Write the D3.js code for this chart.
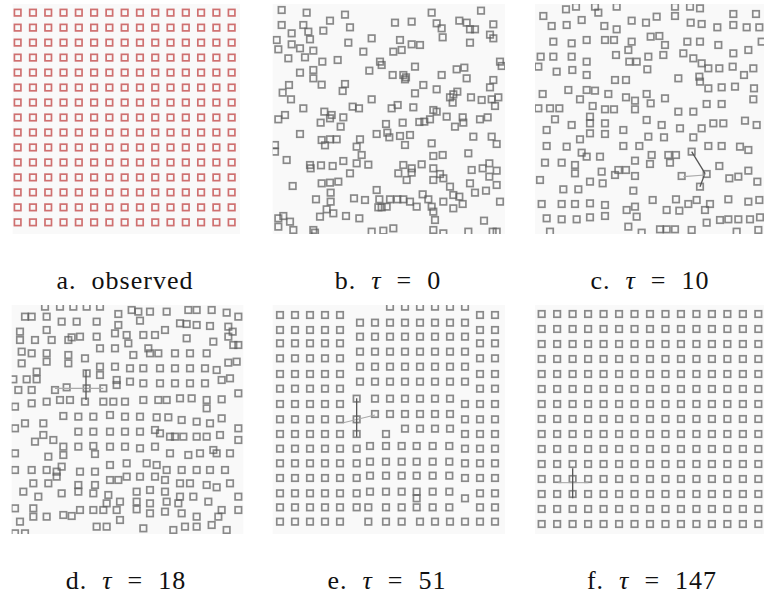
<!DOCTYPE html>
<html>
<head>
<meta charset="utf-8">
<script src="https://cdn.jsdelivr.net/npm/d3@7"></script>
<style>
  body { margin: 0; background: #fff; }
  svg { display: block; }
  .lbl { font-family: "Liberation Serif", "DejaVu Serif", serif; font-size: 26px; letter-spacing: 1px; fill: #111; }
</style>
</head>
<body>
<div id="chart"></div>
<script>
// lattice rows / columns of the observed and final layouts
const gridIdx = [0, 1, 2, 3, 4, 5, 6, 7, 8, 9, 10, 11, 12, 13, 14];

const panelNames = ["a.", "b.", "c.", "d.", "e.", "f."];
const tauValues = [null, 0, 10, 18, 51, 147];

// square centres (tile units, 0..750 across a 250px tile)
const ptsB = [
  [65,30],[140,38],[255,44],[515,38],[663,32],
  [210,62],[65,75],[130,75],[405,68],[455,65],[530,70],[598,62],[620,68],[700,73],
  [95,100],[145,95],[190,92],[270,82],[545,85],[630,88],[645,88],[690,104],
  [50,120],[95,133],[150,118],[265,128],[335,115],[420,120],[455,133],[480,135],[548,112],[630,128],[700,115],
  [55,148],[120,145],[160,152],[310,155],[400,155],[425,150],
  [85,175],[135,172],[187,185],[233,180],[720,185],
  [360,185],[365,195],[328,212],[398,225],[430,225],[438,232],[465,200],[545,225],[590,208],[613,203],[725,198],
  [120,218],[160,210],[160,235],[185,254],[255,252],[248,273],[87,255],[68,278],[93,298],[435,238],[620,235],[700,240],[690,262],
  [465,280],[490,255],[530,268],[580,283],[592,275],[570,292],[633,292],[665,300],[695,298],[715,292],[705,318],
  [130,325],[278,320],[297,325],[335,298],[395,325],[413,315],[460,322],[520,330],[530,335],[578,308],[193,335],[215,345],
  [55,358],[75,345],[182,368],[210,355],[242,380],[250,352],[378,372],[428,368],[478,366],[493,365],[510,358],[560,350],[585,380],[608,352],[610,368],[660,358],[683,352],
  [120,402],[350,402],[382,398],[388,412],[420,408],[450,405],[185,420],[210,418],[230,418],[300,418],[640,410],[695,410],[710,432],
  [45,435],[45,455],[195,436],[290,440],[435,435],[515,430],
  [80,480],[305,465],[520,468],[548,465],[625,460],
  [150,495],[152,505],[183,496],[218,498],[250,483],[290,490],[325,494],[270,520],[430,495],[455,505],[485,493],[455,518],[440,540],[520,505],[540,522],[635,510],[668,505],[688,490],[710,512],
  [98,558],[185,550],[210,548],[235,545],[520,540],[550,535],[570,560],[630,550],[688,530],[710,555],[415,520],
  [168,598],[212,578],[212,605],[282,595],[315,600],[350,570],[358,598],[390,598],[412,598],[430,598],[450,605],[488,583],[505,598],[515,620],[550,605],[580,585],[598,590],[608,612],[645,578],[720,605],[678,572],
  [200,628],[180,650],[220,640],[258,648],[298,655],[355,622],[365,622],[380,620],[470,620],[520,635],[580,625],[525,660],[672,662],
  [55,655],[70,648],[55,680],[90,665],[100,690],[160,690],[165,698],[335,695],[370,692],[400,685],[520,690],[550,700],[625,695],[698,695],[710,695]
];

const ptsC = [
  [138,28],[168,20],[225,20],[235,38],[290,20],[465,20],[510,20],[540,25],[640,42],[708,42],[70,48],
  [95,78],[140,75],[185,60],[253,78],[290,88],[335,62],[378,68],[410,50],[465,48],[512,68],[545,72],[592,82],[640,75],[680,82],[718,82],
  [100,125],[155,130],[200,120],[255,120],[282,120],[335,125],[392,110],[418,108],[435,135],[502,125],[540,125],[595,135],[725,125],
  [325,150],[288,165],[328,185],[350,185],[385,170],[430,165],[490,160],[520,175],[545,190],[565,205],[598,205],[640,160],[685,150],[62,170],[100,170],[155,170],[200,185],
  [55,200],[110,215],[157,210],[200,225],[382,208],[475,235],[538,230],[638,200],[672,225],[700,205],[285,240],[318,240],
  [540,245],[565,265],[605,262],[645,260],[702,265],[68,282],[145,270],[180,298],[200,270],[225,272],[265,282],[318,292],[345,302],[380,282],[392,310],[435,295],[560,312],[605,312],[700,298],
  [55,325],[90,325],[118,325],[218,318],[255,328],[282,328],[345,328],[475,335],[520,335],[105,358],[155,375],[210,350],[210,370],[255,370],[310,390],[380,360],[425,375],[480,385],[545,385],[580,370],[610,370],[675,362],[710,375],
  [80,390],[180,418],[210,400],[255,402],[385,410],[432,412],[520,412],[565,438],[605,438],[660,440],[685,450],[80,438],[140,440],[185,458],[310,438],[358,438],[395,465],[445,465],[468,465],[515,455],
  [75,488],[125,488],[165,495],[200,470],[240,470],[345,482],[390,492],[450,488],[598,498],[165,520],[245,515],[295,510],[285,525],[318,510],[345,528],[485,528],[560,522],[628,535],[655,530],[685,512],[712,545],[60,540],[210,545],[248,550],[540,560],
  [130,568],[175,568],[340,572],[398,600],[468,598],[505,612],[530,600],[570,612],[625,598],[685,605],[718,600],[65,612],[125,612],[165,612],[210,610],[255,615],[320,630],[345,620],[440,630],[478,632],[555,630],
  [80,655],[125,658],[170,658],[210,652],[255,648],[350,650],[325,680],[365,698],[420,688],[440,688],[465,688],[515,690],[600,660],[625,658],[655,658],[690,658],[720,652],[560,668],[90,695],[650,695],[715,690]
];

const ptsD = [
  [135,20],[180,20],[220,20],[260,20],[300,20],[395,30],[415,35],[450,35],[500,35],[565,30],[590,30],[635,30],[680,38],[715,50],[75,50],[95,50],[140,50],[355,42],[420,62],
  [185,65],[230,65],[290,65],[140,90],[355,75],[540,70],[560,72],[590,75],[630,78],[685,80],[698,95],[495,90],[60,95],[60,120],[105,120],[155,120],[205,120],[215,112],[240,110],[290,110],[345,100],[380,105],[385,130],[430,105],[465,105],[560,115],[640,125],[685,110],[700,135],[715,135],
  [65,155],[95,160],[140,160],[205,165],[255,175],[300,145],[345,145],[400,165],[445,145],[450,160],[475,160],[525,160],[570,160],[620,160],[685,188],[710,185],[65,190],[140,185],[205,190],[300,200],[345,200],[390,205],[430,205],[480,205],[525,205],[570,205],[615,205],[650,210],
  [110,215],[260,220],[300,225],[40,238],[80,238],[110,238],[350,240],[350,255],[390,245],[430,250],[480,250],[525,250],[570,250],[615,250],[665,240],[690,235],[55,270],[95,270],[165,270],[200,262],[260,265],[310,265],
  [715,280],[45,320],[95,310],[140,305],[180,300],[210,300],[255,305],[310,305],[340,305],[375,305],[430,300],[475,300],[500,300],[540,295],[575,295],[620,300],[665,298],[620,325],
  [190,348],[235,350],[280,350],[330,345],[375,350],[420,350],[470,352],[505,352],[545,360],[590,365],[630,370],[665,355],[45,385],[75,370],[130,370],[105,425],[130,405],[160,420],[235,395],[280,395],[330,395],[375,395],[420,395],[465,390],[480,400],[510,410],[525,410],[550,410],[590,410],[620,410],[660,405],[715,385],
  [190,440],[235,440],[280,438],[330,440],[375,440],[420,445],[465,440],[45,460],[145,470],[190,465],[285,462],[510,460],[565,465],[600,460],[640,450],[650,460],[690,460],[715,420],
  [45,510],[95,510],[140,510],[170,515],[185,500],[240,515],[285,515],[330,495],[380,490],[440,490],[470,495],[500,510],[545,510],[590,510],[630,510],[675,510],[170,530],[330,540],[355,540],[380,530],[420,530],[465,530],[495,540],[540,550],[570,550],[620,555],[650,562],[690,550],
  [100,550],[145,550],[70,575],[115,590],[185,580],[235,555],[235,575],[285,555],[280,580],[325,585],[410,575],[450,570],[495,575],[540,590],[580,590],[625,605],[715,590],[320,610],[360,605],[410,605],[450,610],[500,605],[535,610],
  [45,625],[100,625],[100,650],[140,650],[190,645],[215,648],[240,630],[280,630],[310,630],[350,630],[410,628],[450,640],[495,635],[545,640],[590,650],[665,630],[715,630],[60,665],[290,680],[320,680],[360,660],[430,685],[520,690],[555,680],[590,680],[635,675],[680,690],[655,650],[45,700],[75,700]
];

// panel e: squares listed row by row (row centre, then column centres)
const rowsE = [
  [20, [390,435,480,525,570,615]],
  [45, [60,105,150,195,240,660,705]],
  [68, [300,345,390,435,480,525,570,615]],
  [90, [60,105,150,195,240,660,705]],
  [110, [300,345,390,435,480,525,570,615]],
  [130, [60,105,150,195,240,660,705]],
  [155, [300,345,390,435,480,525,570,615]],
  [175, [60,105,150,195,240,660,705]],
  [200, [300,345,390,435,480,525,570,615]],
  [222, [60,105,150,195,240,660,705]],
  [245, [300,345,390,435,480,525,570,615]],
  [266, [60,105,150,195,240,660,705]],
  [296, [290,345,390,435,480,525,570]],
  [312, [60,105,150,195,240,615,660,705]],
  [342, [345,390,435,480,525,570]],
  [358, [60,105,150,195,240,290,615,660,705]],
  [386, [435,480,525,570]],
  [402, [60,105,150,195,240,290,378,615,660,705]],
  [438, [330,378,425,470,518,568]],
  [446, [60,105,150,195,240,290,615,660,705]],
  [485, [330,378,425,470,518,568]],
  [490, [60,105,150,195,240,290,615,660,705]],
  [527, [330,378,425,470,518,568]],
  [534, [60,105,150,195,240,290,615,660,705]],
  [575, [330,378,425,470,518,568]],
  [580, [60,105,150,195,240,290,660,705]],
  [595, [470,615]],
  [622, [60,105,150,195,240,290,325,378,425,470,518,568,660,705]],
  [665, [60,105,150,195,240,325,378,425,480,525,570,615,660,705]]
];
const ptsE = rowsE.flatMap(([y, xs]) => xs.map(x => [x, y]));

// highlighted moves drawn as thin links [x1, y1, x2, y2, dark?]
const linksC = [[515,455,555,520,1],[555,520,540,560,1],[490,530,555,525,0]];
const linksD = [[165,265,310,265,0],[258,210,258,300,1]];
const linksE = [[250,368,345,345,0],[290,295,290,410,1]];
const linksF = [[115,548,205,548,0],[158,505,158,595,1]];

const W = 764, H = 597;
const svg = d3.select("#chart").append("svg").attr("width", W).attr("height", H);

const defs = svg.append("defs");
defs.append("filter").attr("id", "soft")
  .append("feGaussianBlur").attr("stdDeviation", 0.35);

// tile units -> pixels
const t = d3.scaleLinear().domain([0, 750]).range([0, 250]);
const SQ = 6.5;

const gridA = gridIdx.flatMap(r => gridIdx.map(c => [c, r]));
const ax = d3.scalePoint().domain(gridIdx).range([53, 695]);
const ay = d3.scalePoint().domain(gridIdx).range([38, 667]);
const fx = d3.scalePoint().domain(gridIdx).range([65, 715]);
const fy = d3.scalePoint().domain(gridIdx).range([42, 672]);

const panels = [
  {tx: 0,   ty: 0,   lx: 125, clip: [38, 12, 720, 702], pts: gridA.map(([c, r]) => [ax(c), ay(r)]), red: true, links: []},
  {tx: 260, ty: 0,   lx: 128, clip: [38, 12, 735, 702], pts: ptsB, links: []},
  {tx: 520, ty: 0,   lx: 130, clip: [45, 12, 735, 702], pts: ptsC, links: linksC},
  {tx: 0,   ty: 300, lx: 126, clip: [35, 15, 730, 702], pts: ptsD, links: linksD},
  {tx: 260, ty: 300, lx: 127, clip: [38, 15, 735, 702], pts: ptsE, links: linksE},
  {tx: 520, ty: 300, lx: 132, clip: [45, 15, 735, 702], pts: gridA.map(([c, r]) => [fx(c), fy(r)]), links: linksF}
];

panels.forEach((p, i) => {
  const g = svg.append("g").attr("transform", `translate(${p.tx},${p.ty})`);
  const [x0, y0, x1, y1] = p.clip;
  defs.append("clipPath").attr("id", "clip" + i)
    .append("rect")
    .attr("x", t(x0)).attr("y", t(y0))
    .attr("width", t(x1 - x0)).attr("height", t(y1 - y0));

  g.append("rect")
    .attr("x", t(x0)).attr("y", t(y0))
    .attr("width", t(x1 - x0)).attr("height", t(y1 - y0))
    .attr("fill", "#f9f9f9");

  const body = g.append("g").attr("clip-path", `url(#clip${i})`)
    .append("g").attr("filter", "url(#soft)");

  body.selectAll("rect.sq").data(p.pts).join("rect")
    .attr("class", "sq")
    .attr("x", d => t(d[0]) - SQ / 2)
    .attr("y", d => t(d[1]) - SQ / 2)
    .attr("width", SQ).attr("height", SQ)
    .attr("fill", "none")
    .attr("stroke", p.red ? "#c85858" : "#5a5a5a")
    .attr("stroke-opacity", p.red ? 0.85 : 0.7)
    .attr("stroke-width", 1.7);

  body.selectAll("line").data(p.links).join("line")
    .attr("x1", d => t(d[0])).attr("y1", d => t(d[1]))
    .attr("x2", d => t(d[2])).attr("y2", d => t(d[3]))
    .attr("stroke", d => d[4] ? "#555" : "#aaa")
    .attr("stroke-width", d => d[4] ? 1.3 : 1.1);

  const txt = g.append("text").attr("class", "lbl")
    .attr("x", p.lx).attr("y", 289)
    .attr("text-anchor", "middle");
  txt.append("tspan").text(panelNames[i] + "\u00a0\u00a0");
  if (tauValues[i] === null) {
    txt.append("tspan").text("observed");
  } else {
    txt.append("tspan").attr("font-style", "italic").text("\u03c4");
    txt.append("tspan").text("\u00a0\u00a0=\u00a0\u00a0" + tauValues[i]);
  }
});
</script>
</body>
</html>
